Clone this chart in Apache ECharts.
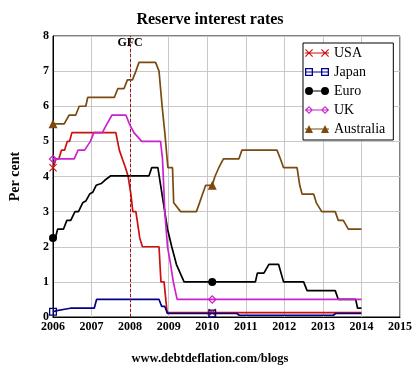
<!DOCTYPE html>
<html><head><meta charset="utf-8">
<script src="https://cdn.jsdelivr.net/npm/echarts@6/dist/echarts.min.js"></script>
<style>html,body{margin:0;padding:0;background:#fff}#c{width:420px;height:368px}</style>
</head><body><div id="c"></div>
<script>
const seriesNames = ['USA', 'Japan', 'Euro', 'UK', 'Australia'];
const markerYears = [2006, 2010.13];
const gfcYear = 2008;
const usaRates = [[2006,4.25],[2006.08,4.5],[2006.15,4.5],[2006.22,4.75],[2006.3,4.75],[2006.37,5.0],[2006.43,5.0],[2006.49,5.25],[2007.63,5.25],[2007.72,4.75],[2007.8,4.5],[2007.88,4.25],[2007.95,4.0],[2008.02,3.5],[2008.07,3.0],[2008.15,3.0],[2008.25,2.25],[2008.32,2.0],[2008.75,2.0],[2008.8,1.0],[2008.88,1.0],[2008.96,0.125],[2010.13,0.125],[2014,0.125]];
const japanRates = [[2006,0.15],[2006.1,0.18],[2006.3,0.22],[2006.45,0.25],[2007.07,0.25],[2007.13,0.5],[2008.75,0.5],[2008.82,0.3],[2008.9,0.3],[2008.97,0.1],[2010.13,0.1],[2010.77,0.1],[2010.83,0.05],[2013.27,0.05],[2013.33,0.1],[2014,0.1]];
const euroRates = [[2006,2.25],[2006.06,2.25],[2006.12,2.5],[2006.27,2.5],[2006.36,2.75],[2006.46,2.75],[2006.57,3.0],[2006.66,3.0],[2006.77,3.25],[2006.85,3.3],[2006.95,3.5],[2007.03,3.55],[2007.12,3.75],[2007.25,3.8],[2007.35,3.9],[2007.5,4.02],[2008.49,4.02],[2008.56,4.25],[2008.72,4.25],[2008.97,2.5],[2009.08,2.0],[2009.2,1.5],[2009.3,1.25],[2009.4,1.0],[2010.13,1.0],[2011.25,1.0],[2011.3,1.25],[2011.47,1.25],[2011.6,1.5],[2011.85,1.5],[2011.98,1.0],[2012.5,1.0],[2012.59,0.75],[2013.32,0.75],[2013.4,0.5],[2013.85,0.5],[2013.9,0.25],[2014,0.25]];
const ukRates = [[2006,4.5],[2006.55,4.5],[2006.65,4.75],[2006.82,4.75],[2006.97,5.0],[2007.06,5.25],[2007.28,5.25],[2007.4,5.5],[2007.53,5.75],[2007.89,5.75],[2007.98,5.5],[2008.1,5.25],[2008.3,5.0],[2008.79,5.0],[2008.84,4.5],[2008.9,3.0],[2008.97,2.0],[2009.05,1.5],[2009.12,1.0],[2009.22,0.5],[2010.13,0.5],[2014,0.5]];
const ausRates = [[2006,5.5],[2006.29,5.5],[2006.42,5.75],[2006.59,5.75],[2006.68,6.0],[2006.85,6.0],[2006.9,6.25],[2007.59,6.25],[2007.68,6.5],[2007.84,6.5],[2007.93,6.75],[2008.06,6.75],[2008.15,7.0],[2008.23,7.25],[2008.66,7.25],[2008.75,7.0],[2008.83,6.0],[2008.9,5.25],[2008.98,4.25],[2009.1,4.25],[2009.13,3.25],[2009.18,3.25],[2009.31,3.0],[2009.72,3.0],[2009.8,3.25],[2009.88,3.5],[2009.96,3.75],[2010.13,3.75],[2010.2,4.0],[2010.3,4.25],[2010.42,4.5],[2010.82,4.5],[2010.9,4.75],[2011.81,4.75],[2011.9,4.5],[2011.98,4.25],[2012.33,4.25],[2012.4,3.75],[2012.46,3.5],[2012.76,3.5],[2012.83,3.25],[2012.97,3.0],[2013.32,3.0],[2013.4,2.75],[2013.53,2.75],[2013.66,2.5],[2014,2.5]];
const xTicks = {min: 2006, max: 2015, interval: 1};
const yTicks = {min: 0, max: 8, interval: 1};

const FONT = 'Liberation Serif';
const colors = ['#cc1010', '#000088', '#000000', '#cc22cc', '#7a4a10'];
const pointSymbols = [
  'path://M0 0.8L0.8 0L8 7.2L7.2 8Z M0 7.2L7.2 0L8 0.8L0.8 8Z',
  'path://M0 0H8V8H0Z M1.3 1.3V6.7H6.7V1.3Z',
  'circle',
  'path://M4 0L8 4L4 8L0 4Z M4 1.6L1.6 4L4 6.4L6.4 4Z',
  'triangle'
];
const pointSizes = [8, 8, 8, 9, 9];
const legendIcons = [
  'path://M0 3.4H24V4.6H0Z M0 0.8L0.8 0L8 7.2L7.2 8Z M0 7.2L7.2 0L8 0.8L0.8 8Z M16 0.8L16.8 0L24 7.2L23.2 8Z M16 7.2L23.2 0L24 0.8L16.8 8Z',
  'path://M0 3.4H24V4.6H0Z M0 0H8V8H0Z M1.3 1.3V6.7H6.7V1.3Z M16 0H24V8H16Z M17.3 1.3V6.7H22.7V1.3Z',
  'path://M0 3.4H24V4.6H0Z M0 4A4 4 0 1 1 8 4A4 4 0 1 1 0 4Z M16 4A4 4 0 1 1 24 4A4 4 0 1 1 16 4Z',
  'path://M0 3.4H24V4.6H0Z M4 0L8 4L4 8L0 4Z M4 1.6L1.6 4L4 6.4L6.4 4Z M20 0L24 4L20 8L16 4Z M20 1.6L17.6 4L20 6.4L22.4 4Z',
  'path://M0 3.4H24V4.6H0Z M4 0L8 8L0 8Z M20 0L24 8L16 8Z'
];
const allRates = [usaRates, japanRates, euroRates, ukRates, ausRates];

function toData(pts) {
  return pts.map(p => markerYears.indexOf(p[0]) >= 0 ? {value: p} : {value: p, symbol: 'none'});
}

const series = seriesNames.map((name, i) => ({
  name: name,
  type: 'line',
  data: toData(allRates[i]),
  showSymbol: true,
  symbol: pointSymbols[i],
  symbolSize: pointSizes[i],
  lineStyle: {color: colors[i], width: 1.7},
  itemStyle: {color: colors[i], borderWidth: 0},
  emphasis: {disabled: true},
  animation: false,
  z: 2 + i
}));
series[0].markLine = {
  silent: true, symbol: ['none', 'none'],
  lineStyle: {color: '#a01010', type: [3, 2], width: 1},
  label: {show: false},
  data: [{xAxis: gfcYear}],
  animation: false
};
series[0].markPoint = {
  silent: true, symbol: 'rect', symbolSize: 1,
  itemStyle: {color: 'rgba(0,0,0,0)'},
  label: {show: true, position: 'inside', formatter: 'GFC', color: '#000', fontFamily: FONT, fontWeight: 'bold', fontSize: 12},
  data: [{coord: [gfcYear, 7.8]}],
  animation: false
};

const chart = echarts.init(document.getElementById('c'), null, {renderer: 'canvas'});
chart.setOption({
  animation: false,
  backgroundColor: '#fff',
  title: [
    {text: 'Reserve interest rates', left: 'center', top: 7,
     textStyle: {fontFamily: FONT, fontWeight: 'bold', fontSize: 16, color: '#000'}},
    {text: 'www.debtdeflation.com/blogs', left: 'center', top: 347,
     textStyle: {fontFamily: FONT, fontWeight: 'bold', fontSize: 12.5, color: '#000'}}
  ],
  grid: {left: 52, right: 20, top: 36, bottom: 51, show: true, borderColor: '#000', borderWidth: 1, backgroundColor: 'transparent'},
  legend: {
    orient: 'vertical', left: 303, top: 43,
    padding: [2, 8, 3, 2], itemGap: 3, itemWidth: 24, itemHeight: 10, itemTextGap: 5,
    backgroundColor: '#fff', borderColor: '#000', borderWidth: 1,
    textStyle: {fontFamily: FONT, fontSize: 14, color: '#000', lineHeight: 16},
    itemStyle: {borderWidth: 0},
    selectedMode: false,
    data: seriesNames.map((n, i) => ({name: n, icon: legendIcons[i]}))
  },
  xAxis: {
    type: 'value', min: xTicks.min, max: xTicks.max, interval: xTicks.interval,
    axisLine: {show: true, lineStyle: {color: '#000', width: 1}},
    axisTick: {show: false},
    axisLabel: {formatter: v => String(v), fontFamily: FONT, fontWeight: 'bold', fontSize: 12, color: '#000', margin: 4},
    splitLine: {show: true, lineStyle: {color: '#c8c8c8', width: 1}}
  },
  yAxis: {
    type: 'value', min: yTicks.min, max: yTicks.max, interval: yTicks.interval,
    name: 'Per cent', nameLocation: 'middle', nameGap: 31, nameRotate: 90,
    nameTextStyle: {fontFamily: FONT, fontWeight: 'bold', fontSize: 14, color: '#000'},
    axisLine: {show: true, lineStyle: {color: '#000', width: 1}},
    axisTick: {show: false},
    axisLabel: {fontFamily: FONT, fontWeight: 'bold', fontSize: 12, color: '#000', margin: 4},
    splitLine: {show: true, lineStyle: {color: '#c8c8c8', width: 1}}
  },
  series: series
});
</script>
</body></html>
